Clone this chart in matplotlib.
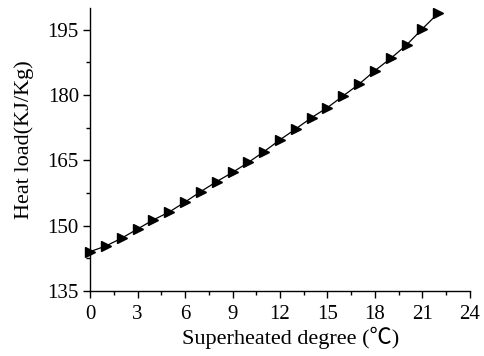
import matplotlib
matplotlib.use("Agg")
import matplotlib.pyplot as plt
from matplotlib.ticker import MultipleLocator

plt.rcParams['font.family'] = ['Liberation Serif', 'Noto Sans CJK SC', 'DejaVu Serif']

superheat = list(range(0, 23))
heat_load = [144.0, 145.3, 147.1, 149.2, 151.3, 153.1, 155.4, 157.8, 160.1, 162.2,
             164.5, 167.0, 169.7, 172.2, 174.8, 177.1, 179.8, 182.5, 185.6, 188.4,
             191.5, 195.2, 198.8]

fig = plt.figure(figsize=(4.84, 3.56), dpi=100)
ax = fig.add_axes([0.186, 0.183, 0.785, 0.795])
ax.plot(superheat, heat_load, color='black', lw=0.9, marker='>', markersize=6.5,
        markerfacecolor='black', markeredgecolor='black', clip_on=False)

ax.set_xlim(0, 24)
ax.set_ylim(135, 200)
ax.xaxis.set_major_locator(MultipleLocator(3))
ax.xaxis.set_minor_locator(MultipleLocator(1.5))
ax.set_yticks([135, 150, 165, 180, 195])
ax.yaxis.set_minor_locator(MultipleLocator(7.5))

for s in ['top', 'right']:
    ax.spines[s].set_visible(False)
for s in ['left', 'bottom']:
    ax.spines[s].set_linewidth(1.0)

ax.tick_params(which='major', direction='out', length=5, width=1.0, labelsize=15)
ax.tick_params(axis='x', which='major', pad=5)
ax.tick_params(axis='y', which='major', pad=3)
ax.tick_params(which='minor', direction='out', length=3, width=1.0)

ax.set_xlabel('Superheated degree (℃)', fontsize=16)
ax.set_ylabel('Heat load(KJ/Kg)', fontsize=16)
ax.xaxis.set_label_coords(0.528, -0.128)
ax.yaxis.set_label_coords(-0.148, 0.534)

fig.savefig('out.png', dpi=100)
